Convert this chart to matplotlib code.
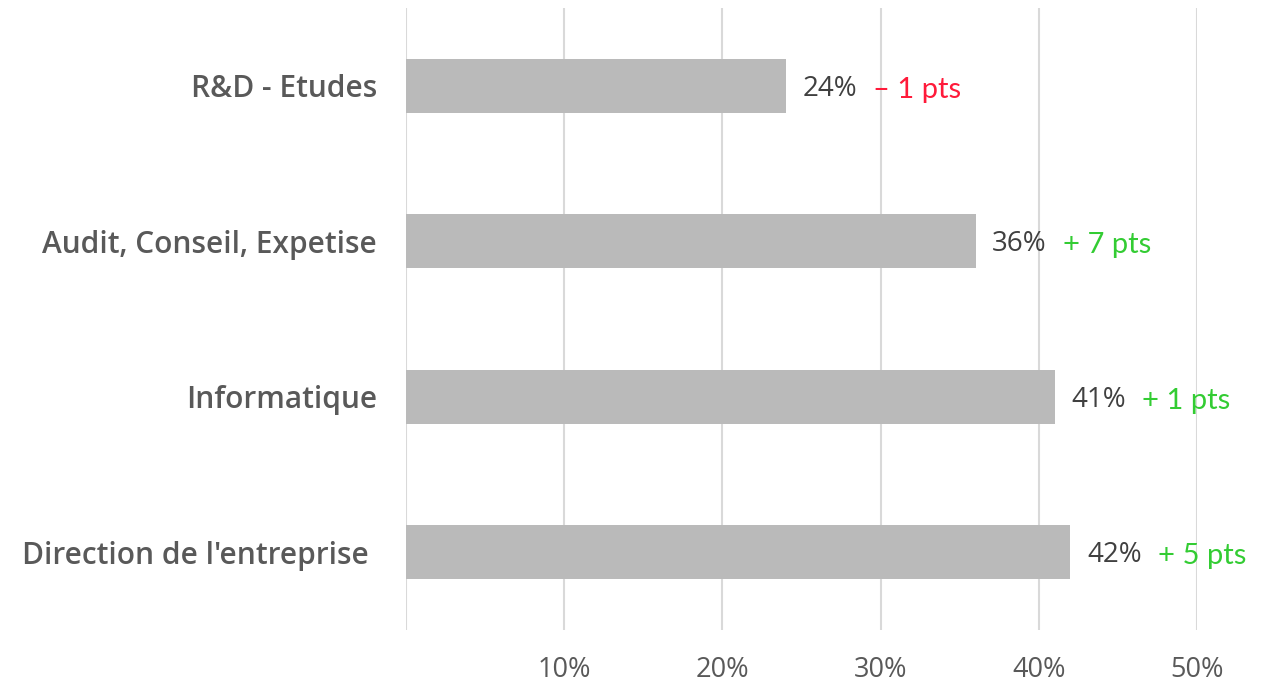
import matplotlib as mpl
mpl.use('Agg')
import matplotlib.pyplot as plt

categories = ["R&D - Etudes", "Audit, Conseil, Expetise", "Informatique", "Direction de l'entreprise"]
values = [24, 36, 41, 42]
deltas = ["\u2013 1 pts", "+ 7 pts", "+ 1 pts", "+ 5 pts"]
delta_colors = ["#ff1a3a", "#33cc33", "#33cc33", "#33cc33"]
xticks = [10, 20, 30, 40, 50]
xtick_labels = ["10%", "20%", "30%", "40%", "50%"]

fig = plt.figure(figsize=(12.81, 6.87), dpi=100)
ax = fig.add_axes([406 / 1281, 1 - 630 / 687, (1197 - 406) / 1281, 622 / 687])

ypos = list(range(len(categories)))
ax.barh(ypos, values, height=0.35, color="#bababa", zorder=2)
ax.set_xlim(0, 50)
ax.set_ylim(3.5, -0.5)

ax.set_xticks(xticks)
ax.set_xticklabels(xtick_labels, family=["Open Sans", "DejaVu Sans"], fontsize=19.5, color="#595959")
ax.tick_params(axis="x", length=0, pad=19)
ax.set_yticks(ypos)
ax.set_yticklabels(categories, family=["Open Sans", "DejaVu Sans"], fontweight="semibold",
                   fontsize=21.5, color="#595959")
ax.tick_params(axis="y", length=0, pad=21)
for t in ax.get_yticklabels()[-1:]:
    t.set_x(-0.01)

ax.grid(axis="x", color="#d9d9d9", linewidth=1.5, zorder=0)
ax.axvline(0, color="#d9d9d9", linewidth=1.5, zorder=0)
for s in ax.spines.values():
    s.set_visible(False)

for y, v, d, c in zip(ypos, values, deltas, delta_colors):
    ax.annotate(f"{v}%", (v, y), xytext=(12, -2), textcoords="offset points",
                va="center", ha="left", fontsize=20, color="#404040",
                family=["Open Sans", "DejaVu Sans"], annotation_clip=False)
    ax.annotate(d, (v, y), xytext=(63, -3), textcoords="offset points",
                va="center", ha="left", fontsize=21, color=c,
                family=["Lato", "DejaVu Sans"], annotation_clip=False)

fig.savefig("out.png", dpi=100)
